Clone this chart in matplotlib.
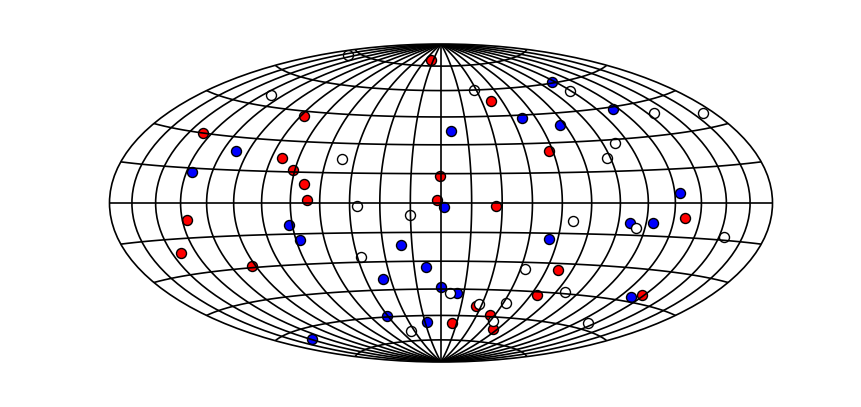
import numpy as np
import matplotlib
matplotlib.use("Agg")
import matplotlib.pyplot as plt

# positions in degrees
red_lon = [-18.7, -87.8, -140.6, -84.1, -76.2, -0.6, -68.5, -66.6,
           -1.8, 36.9, 57.8, -132.0, -144.7, -107.1, 27.1, 126.4,
           66.7, 63.8, 133.7, 26.3, 40.8, 10.9, 56.0]
red_lat = [78.7, 42.6, 29.9, 21.4, 16.1, 13.8, 9.1, 1.5,
           1.5, 53.4, 26.1, -7.1, -21.0, -29.4, -1.5, -6.4,
           -33.5, -46.5, -41.4, -54.1, -58.9, -64.6, -67.1]

blue_lon = [-112.4, -131.7, 103.0, 51.3, 71.9, 115.7, 5.8, 122.9,
            -76.6, -72.7, -20.5, -8.2, -34.5, -0.2, -45.7, -12.9,
            -148.3, 1.3, 96.1, 108.7, 55.2, 10.4, 127.8]
blue_lat = [23.7, 13.3, 60.6, 43.4, 38.8, 43.9, 37.5, 4.3,
            -10.8, -18.0, -21.6, -33.1, -38.9, -43.7, -59.6, -63.8,
            -64.7, -2.2, -9.2, -8.9, -17.8, -47.3, -42.7]

white_lon = [-158.2, -129.7, -51.6, -41.3, 28.1, 104.0, 140.0, 172.0,
             97.4, 88.2, -15.2, -42.9, -33.9, 65.9, 100.2, 153.1,
             47.7, 5.7, 80.8, 46.9, 27.6, 47.8, 129.0]
white_lat = [73.0, 50.2, 22.2, -1.7, 60.0, 55.0, 39.7, 35.6,
             28.3, 21.3, -6.1, -27.2, -69.1, -8.8, -11.4, -13.8,
             -33.4, -47.0, -44.3, -51.9, -53.1, -62.5, -57.0]

W, H = 861, 407
fig = plt.figure(figsize=(W / 100, H / 100), dpi=100)
ax = fig.add_axes([109.5 / W, (H - 362) / H, 663 / W, 318 / H], projection="hammer")
ax.set_aspect("auto")

ax.set_longitude_grid(15)
ax.set_latitude_grid(15)
ax.set_longitude_grid_ends(90)
ax.grid(True, color="black", linestyle="-", linewidth=1.2, alpha=1.0)
ax.set_axisbelow(False)
ax.set_xticklabels([])
ax.set_yticklabels([])
for s in ax.spines.values():
    s.set_linewidth(1.2)
    s.set_edgecolor("black")

for lon, lat, col in [(red_lon, red_lat, "red"),
                      (blue_lon, blue_lat, "blue"),
                      (white_lon, white_lat, "white")]:
    ax.plot(np.radians(lon), np.radians(lat), "o", color=col, markeredgecolor="black",
            markeredgewidth=1.0, markersize=7.2, zorder=1.5)

fig.savefig("out.png", dpi=100)
